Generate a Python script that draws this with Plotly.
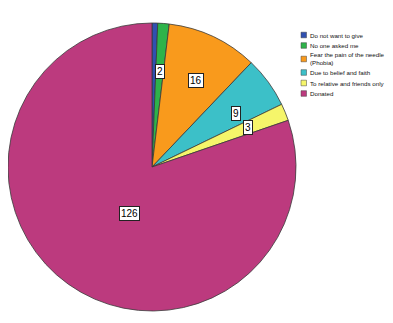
import math
import plotly.graph_objects as go

categories = ["Do not want to give", "No one asked me",
              "Fear the pain of the needle (Phobia)", "Due to belief and faith",
              "To relative and friends only", "Donated"]
legend_text = ["Do not want to give", "No one asked me",
               "Fear the pain of the needle<br>(Phobia)", "Due to belief and faith",
               "To relative and friends only", "Donated"]
values = [1, 2, 16, 9, 3, 126]
colors = ["#3050b0", "#2eb34a", "#f99a1c", "#3cc0c8", "#f5f56a", "#bc3a7e"]

# page is offset by the default 8px body margin
OFF = 8
W, H = 393 - OFF, 323 - OFF
cx, cy, r = 152 - OFF, 167 - OFF, 144

fig = go.Figure()
fig.add_trace(go.Pie(
    labels=categories, values=values, sort=False, direction="clockwise",
    rotation=0, textinfo="none", showlegend=False,
    marker=dict(colors=colors, line=dict(color="#3a3a3a", width=0.8)),
    domain=dict(x=[max(0, (cx - r) / W), (cx + r) / W],
                y=[1 - (cy + r) / H, 1 - (cy - r) / H]),
))

total = sum(values)
cum = 0
annotations = []
for v in values:
    frac = v / total
    theta = 2 * math.pi * (cum + v / 2) / total
    cum += v
    if frac < 0.01:
        continue
    f = 0.72 if frac < 0.5 else 0.4
    px = cx + f * r * math.sin(theta)
    py = cy - f * r * math.cos(theta)
    annotations.append(dict(
        x=px / W, y=1 - py / H, xref="paper", yref="paper", text=str(v),
        showarrow=False, font=dict(family="Liberation Sans, Arial", size=10, color="black"),
        bgcolor="white", bordercolor="#222", borderwidth=1, borderpad=1,
    ))

# legend drawn from categories/colors
shapes = []
lx, ly0 = 301 - OFF, 35 - OFF
y = ly0
for i, (t, c) in enumerate(zip(legend_text, colors)):
    lines = t.count("<br>") + 1
    yc = y + (lines - 1) * 3
    shapes.append(dict(type="rect", xref="paper", yref="paper",
                       x0=lx / W, x1=(lx + 5.5) / W,
                       y0=1 - (yc + 2.8) / H, y1=1 - (yc - 2.8) / H,
                       fillcolor=c, line=dict(color="#444", width=0.5)))
    annotations.append(dict(
        x=(lx + 7) / W, y=1 - yc / H, xref="paper", yref="paper", text=t,
        showarrow=False, xanchor="left", yanchor="middle", align="left",
        font=dict(family="Liberation Sans, Arial", size=6.2, color="#111"),
    ))
    y += 10.5 + (lines - 1) * 6

fig.update_layout(
    width=W, height=H, margin=dict(l=0, r=0, t=0, b=0),
    paper_bgcolor="white", plot_bgcolor="white",
    annotations=annotations, shapes=shapes,
)
fig.write_html("out.html")
